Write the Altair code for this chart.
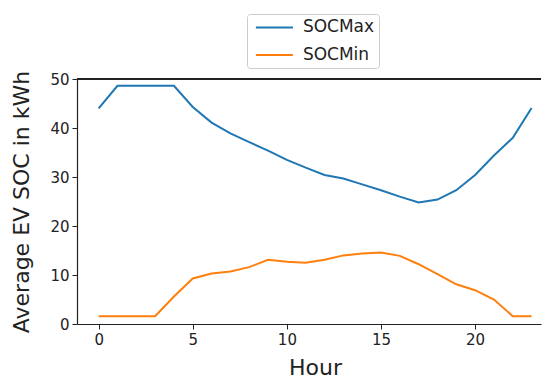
import altair as alt
import pandas as pd

hours = list(range(24))
soc_max = [44.0, 48.6, 48.6, 48.6, 48.6, 44.3, 41.1, 38.9, 37.1, 35.4, 33.5, 31.9,
           30.4, 29.7, 28.5, 27.3, 26.0, 24.8, 25.4, 27.3, 30.4, 34.4, 38.0, 44.1]
soc_min = [1.6, 1.6, 1.6, 1.6, 5.6, 9.3, 10.3, 10.7, 11.6, 13.1, 12.7, 12.5,
           13.1, 14.0, 14.4, 14.6, 13.9, 12.2, 10.2, 8.1, 6.9, 5.0, 1.6, 1.6]
series = ["SOCMax", "SOCMin"]
colors = ["#1f77b4", "#ff7f0e"]

df = pd.DataFrame({
    "Hour": hours * 2,
    "Value": soc_max + soc_min,
    "Series": [series[0]] * 24 + [series[1]] * 24,
})

W, H = 464, 245
FONT = "DejaVu Sans"

lines = alt.Chart(df).mark_line(strokeWidth=2).encode(
    x=alt.X("Hour:Q",
            scale=alt.Scale(domain=[-1.15, 23.5], nice=False, zero=False),
            axis=alt.Axis(title="Hour", values=[0, 5, 10, 15, 20], titleX=238,
                          titleFontSize=22, titleFontWeight="normal", titlePadding=10,
                          labelFontSize=15, labelPadding=3, tickSize=5,
                          grid=False, labelFlush=False)),
    y=alt.Y("Value:Q",
            scale=alt.Scale(domain=[0, 50], nice=False),
            axis=alt.Axis(title="Average EV SOC in kWh", values=[0, 10, 20, 30, 40, 50],
                          titleFontSize=22, titleFontWeight="normal", titlePadding=16,
                          labelFontSize=15, labelPadding=3, tickSize=5,
                          grid=False, labelFlush=False)),
    color=alt.Color("Series:N",
                    scale=alt.Scale(domain=series, range=colors),
                    legend=alt.Legend(title=None, orient="none", legendX=170, legendY=-65,
                                      direction="vertical",
                                      symbolType="M-3.7,0L3.7,0", symbolSize=100,
                                      symbolStrokeWidth=2, symbolOffset=14,
                                      labelOffset=20, labelFontSize=17,
                                      rowPadding=9.6, padding=4.9,
                                      fillColor="white", strokeColor="#cccccc",
                                      cornerRadius=3)),
)

top_rule = alt.Chart(df).mark_rule(color="#222", strokeWidth=1.2).encode(
    x=alt.value(0), x2=alt.value(W), y=alt.value(0)
)

chart = alt.layer(lines, top_rule).properties(
    width=W, height=H,
    autosize=alt.AutoSizeParams(type="none"),
    padding={"left": 77, "top": 79, "right": 1, "bottom": 54},
).configure_view(stroke=None).configure_axis(
    domainColor="#222", tickColor="#222", labelColor="#222", titleColor="#222",
    labelFont=FONT, titleFont=FONT, domainWidth=1.2,
).configure_legend(labelFont=FONT, labelColor="#222")

chart.save("out.html", embed_options={"renderer": "svg", "actions": False})
